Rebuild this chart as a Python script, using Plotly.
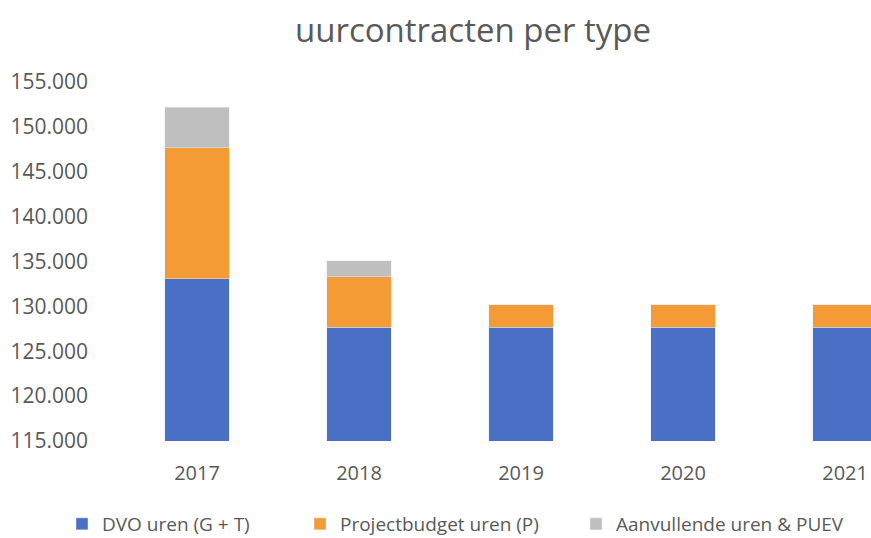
import plotly.graph_objects as go

years = ["2017", "2018", "2019", "2020", "2021"]
dvo = [133100, 127700, 127700, 127700, 127700]
project = [14600, 5600, 2500, 2500, 2500]
aanvullende = [4500, 1800, 0, 0, 0]
y_ticks = [115000, 120000, 125000, 130000, 135000, 140000, 145000, 150000, 155000]
y_labels = ["115.000", "120.000", "125.000", "130.000", "135.000", "140.000", "145.000", "150.000", "155.000"]

FONT = "Open Sans"
GREY = "#595959"

fig = go.Figure()
fig.add_bar(x=years, y=dvo, name="DVO uren (G + T)", marker_color="#4A70C6", legend="legend")
fig.add_bar(x=years, y=project, name="Projectbudget uren (P)", marker_color="#F59B35", legend="legend2")
fig.add_bar(x=years, y=aanvullende, name="Aanvullende uren & PUEV", marker_color="#BFBFBF", legend="legend3")

leg = dict(orientation="h", yref="container", xref="container", yanchor="middle", xanchor="left",
           font=dict(family=FONT, size=19, color=GREY), bgcolor="rgba(0,0,0,0)", itemwidth=30)
fig.update_layout(
    width=871, height=538,
    showlegend=True,
    barmode="stack", bargap=0.6,
    paper_bgcolor="white", plot_bgcolor="white",
    margin=dict(l=116, r=0, t=82, b=97),
    title=dict(text="uurcontracten per type", x=473/871, xref="container", xanchor="center",
               y=1-30/538, yref="container", yanchor="middle",
               font=dict(family=FONT, size=33, color=GREY)),
    font=dict(family=FONT, color=GREY),
    legend=dict(leg, x=62/871, y=1-524/538),
    legend2=dict(leg, x=300/871, y=1-524/538),
    legend3=dict(leg, x=576/871, y=1-524/538),
    xaxis=dict(type="category", range=[-0.5, 4.16], showgrid=False, showline=False, ticks="",
               tickfont=dict(family=FONT, size=20, color=GREY), ticklabelstandoff=18),
    yaxis=dict(range=[115000, 155000], tickvals=y_ticks, ticktext=y_labels, showgrid=False,
               showline=False, zeroline=False, ticks="", ticklabelstandoff=27,
               tickfont=dict(family=FONT, size=21, color=GREY)),
)
fig.write_html("out.html", config={"displayModeBar": False},
               post_script="document.body.style.margin='0';document.body.style.overflow='hidden';")
